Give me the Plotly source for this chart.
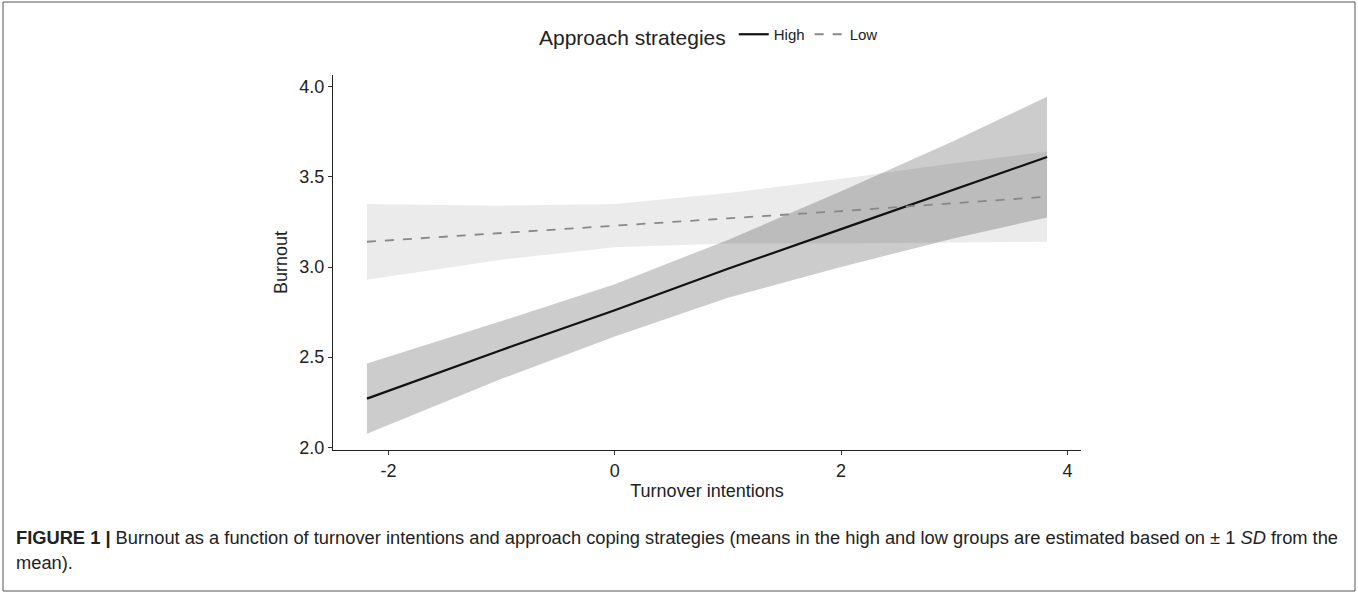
import plotly.graph_objects as go

# ---- data ----
x_vals = [-2.19, -1.0, 0.0, 1.0, 2.0, 3.0, 3.82]

high_fit = [2.27, 2.54, 2.76, 2.99, 3.21, 3.43, 3.61]
high_upper = [2.465, 2.70, 2.905, 3.15, 3.42, 3.70, 3.945]
high_lower = [2.075, 2.38, 2.615, 2.83, 3.00, 3.16, 3.275]

low_fit = [3.14, 3.19, 3.23, 3.27, 3.31, 3.355, 3.39]
low_upper = [3.35, 3.34, 3.35, 3.41, 3.49, 3.575, 3.64]
low_lower = [2.93, 3.04, 3.11, 3.13, 3.13, 3.135, 3.14]

x_ticks = [-2, 0, 2, 4]
y_ticks = [2.0, 2.5, 3.0, 3.5, 4.0]
y_tick_text = ["2.0", "2.5", "3.0", "3.5", "4.0"]

# ---- layout geometry ----
W, H = 1358, 593
ML, MR, MT, MB = 333, 277, 75, 143
PW, PH = W - ML - MR, H - MT - MB


def px_to_paper_x(px):
    return (px - ML) / PW


def px_to_paper_y(py):
    return 1 - (py - MT) / PH


fig = go.Figure()

# ribbons
fig.add_trace(go.Scatter(x=x_vals, y=low_upper, mode="lines", line=dict(width=0),
                         showlegend=False, hoverinfo="skip"))
fig.add_trace(go.Scatter(x=x_vals, y=low_lower, mode="lines", line=dict(width=0),
                         fill="tonexty", fillcolor="rgba(0,0,0,0.08)",
                         showlegend=False, hoverinfo="skip"))
fig.add_trace(go.Scatter(x=x_vals, y=high_upper, mode="lines", line=dict(width=0),
                         showlegend=False, hoverinfo="skip"))
fig.add_trace(go.Scatter(x=x_vals, y=high_lower, mode="lines", line=dict(width=0),
                         fill="tonexty", fillcolor="rgba(0,0,0,0.20)",
                         showlegend=False, hoverinfo="skip"))

# lines
fig.add_trace(go.Scatter(x=x_vals, y=high_fit, mode="lines", name="High",
                         line=dict(color="#111111", width=2.2)))
fig.add_trace(go.Scatter(x=x_vals, y=low_fit, mode="lines", name="Low",
                         line=dict(color="#888888", width=1.8, dash="dash")))

font_main = "Liberation Sans, Arial, sans-serif"
txt = "#222222"

fig.update_layout(
    width=W, height=H,
    margin=dict(l=ML, r=MR, t=MT, b=MB),
    paper_bgcolor="white", plot_bgcolor="white",
    font=dict(family=font_main, color=txt),
    legend=dict(
        orientation="h",
        traceorder="normal",
        x=px_to_paper_x(710), xanchor="center",
        y=px_to_paper_y(37), yanchor="middle",
        title=dict(text="Approach strategies", font=dict(size=21, color=txt), side="left"),
        font=dict(size=15, color=txt),
        itemwidth=30,
        bgcolor="rgba(0,0,0,0)",
    ),
    xaxis=dict(
        range=[-2.49, 4.12],
        tickvals=x_ticks, ticktext=[str(v) for v in x_ticks],
        showgrid=False, zeroline=False,
        showline=True, linecolor=txt, linewidth=1.2,
        ticks="outside", ticklen=4, tickcolor="#333333",
        tickfont=dict(size=18, color=txt),
        title=dict(text="Turnover intentions", font=dict(size=18, color=txt), standoff=4),
    ),
    yaxis=dict(
        range=[1.985, 4.065],
        tickvals=y_ticks, ticktext=y_tick_text,
        showgrid=False, zeroline=False,
        showline=True, linecolor=txt, linewidth=1.2,
        ticks="outside", ticklen=4, tickcolor="#333333",
        tickfont=dict(size=18, color=txt),
        title=dict(text="Burnout", font=dict(size=18, color=txt), standoff=6),
    ),
)

# outer frame
fig.add_shape(type="rect", xref="paper", yref="paper",
              x0=px_to_paper_x(3), x1=px_to_paper_x(1355),
              y0=px_to_paper_y(591), y1=px_to_paper_y(2),
              line=dict(color="#555555", width=1), fillcolor="rgba(0,0,0,0)",
              layer="below")

# caption
caption1 = ("<b>FIGURE 1 |</b> Burnout as a function of turnover intentions and approach coping "
            "strategies (means in the high and low groups are estimated based on \u00b1 1 <i>SD</i> from the")
caption2 = "mean)."
fig.add_annotation(text=caption1, xref="paper", yref="paper",
                   x=px_to_paper_x(14), y=px_to_paper_y(537),
                   xanchor="left", yanchor="middle", showarrow=False,
                   font=dict(size=18.3, family=font_main, color=txt))
fig.add_annotation(text=caption2, xref="paper", yref="paper",
                   x=px_to_paper_x(14), y=px_to_paper_y(562),
                   xanchor="left", yanchor="middle", showarrow=False,
                   font=dict(size=18.3, family=font_main, color=txt))

fig.write_html("out.html", config={"displayModeBar": False},
               post_script="document.body.style.margin='0';")
